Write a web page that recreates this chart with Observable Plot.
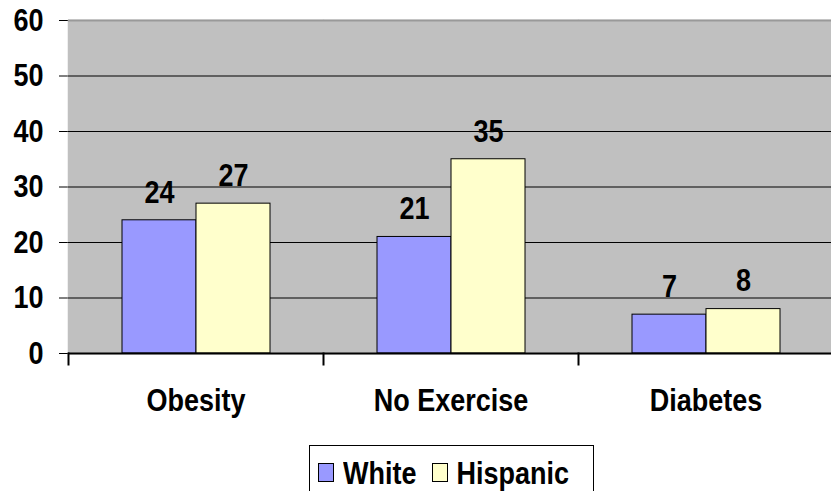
<!DOCTYPE html>
<html>
<head>
<meta charset="utf-8">
<script src="https://cdn.jsdelivr.net/npm/d3@7"></script>
<script src="https://cdn.jsdelivr.net/npm/@observablehq/plot@0.6"></script>
<style>
  html, body { margin: 0; padding: 0; background: #fff; overflow: hidden; }
  body { font-family: "Liberation Sans", Arial, sans-serif; }
  #legend {
    box-sizing: border-box;
    margin-left: 309px; width: 285px; height: 52px;
    border: 1px solid #000; background: #fff;
    display: flex; align-items: flex-start; padding-top: 15px; padding-left: 8px;
    font-weight: bold; font-size: 27px; line-height: 24px;
  }
  #legend .sw { width: 16px; height: 19px; border: 1px solid #000; box-sizing: border-box; margin-top: 2px; }
  #legend .lb { display: inline-block; transform: scaleY(1.17); transform-origin: center; margin-left: 9px; margin-right: 15px; }
</style>
</head>
<body>
<div id="chart"></div>
<div id="legend"></div>
<script>
const categories = ["Obesity", "No Exercise", "Diabetes"];
const series = ["White", "Hispanic"];
const whiteValues = [24, 21, 7];
const hispanicValues = [27, 35, 8];
const yTicks = [0, 10, 20, 30, 40, 50, 60];
const colors = ["#9999FF", "#FFFFCC"];

const data = [];
categories.forEach((c, i) => {
  data.push({category: c, series: "White", value: whiteValues[i]});
  data.push({category: c, series: "Hispanic", value: hispanicValues[i]});
});

const chart = Plot.plot({
  width: 831,
  height: 445,
  marginLeft: 67,
  marginRight: -3,
  marginTop: 20,
  marginBottom: 92,
  style: {fontFamily: "'Liberation Sans', Arial, sans-serif", fontSize: "27px", fontWeight: "bold", color: "#000", background: "#fff"},
  fx: {domain: categories, padding: 0, label: null, tickSize: 0, tickPadding: 37, axis: "bottom"},
  x: {domain: series, paddingInner: 0, paddingOuter: 0.72, axis: null},
  y: {domain: [0, 60], ticks: yTicks, tickSize: 9, tickPadding: 16, label: null, line: true},
  color: {domain: series, range: colors},
  marks: [
    Plot.frame({fill: "#C0C0C0", stroke: "#C0C0C0", strokeWidth: 1.5}),
    Plot.ruleY([10, 20, 30, 40, 50], {stroke: "#000", strokeWidth: 1}),
    Plot.ruleY([60], {stroke: "#999", strokeWidth: 2}),
    Plot.barY(data, {fx: "category", x: "series", y: "value", fill: "series", stroke: "#000", strokeWidth: 1}),
    Plot.ruleY([0], {stroke: "#000", strokeWidth: 2}),
    Plot.frame({anchor: "left", stroke: "#000", strokeWidth: 2, insetTop: 333, insetBottom: -11}),
    Plot.text(data, {fx: "category", x: "series", y: "value", text: d => String(d.value), dy: -28, lineAnchor: "middle", fill: "#000"})
  ]
});

document.getElementById("chart").appendChild(chart);

// Stretch text vertically like the reference
chart.querySelectorAll("text").forEach(t => {
  const g = document.createElementNS("http://www.w3.org/2000/svg", "g");
  const tr = t.getAttribute("transform");
  if (tr) { g.setAttribute("transform", tr); t.removeAttribute("transform"); }
  t.parentNode.insertBefore(g, t);
  g.appendChild(t);
  t.style.transformBox = "fill-box";
  t.style.transformOrigin = "center";
  t.style.transform = "scaleY(1.17)";
});

const legend = document.getElementById("legend");
series.forEach((s, i) => {
  const sw = document.createElement("span");
  sw.className = "sw";
  sw.style.background = colors[i];
  const lb = document.createElement("span");
  lb.className = "lb";
  lb.textContent = s;
  legend.appendChild(sw);
  legend.appendChild(lb);
});
</script>
</body>
</html>
